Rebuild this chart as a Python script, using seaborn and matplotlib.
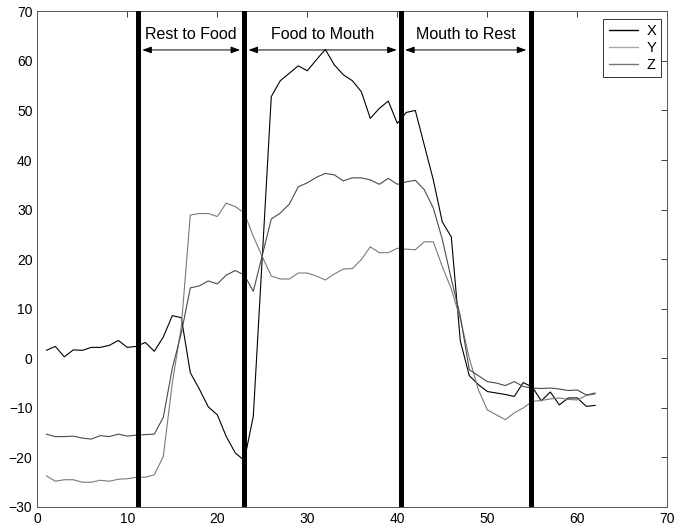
import numpy as np
import pandas as pd
import matplotlib
matplotlib.use("Agg")
import matplotlib.pyplot as plt
import seaborn as sns

# ---------------- data ----------------
samples = list(range(1, 63))

x_vals = [1.6, 2.4, 0.3, 1.7, 1.6, 2.2, 2.2, 2.6, 3.6, 2.2,
          2.4, 3.2, 1.4, 4.3, 8.6, 8.2, -2.9, -6.2, -9.8, -11.4,
          -15.8, -19.1, -20.6, -11.7, 20.5, 52.8, 56.0, 57.5, 59.0, 58.0,
          60.2, 62.3, 59.2, 57.2, 56.0, 53.8, 48.4, 50.4, 51.9, 47.4,
          49.6, 50.0, 43.0, 36.0, 27.5, 24.5, 3.5, -3.5, -5.3, -6.7,
          -7.0, -7.3, -7.7, -4.9, -5.8, -8.6, -6.8, -9.4, -8.0, -8.0,
          -9.7, -9.5]

y_vals = [-23.7, -24.8, -24.5, -24.5, -25.0, -25.0, -24.6, -24.8, -24.4, -24.3,
          -24.0, -24.0, -23.5, -19.8, -5.0, 6.4, 28.9, 29.2, 29.2, 28.6,
          31.3, 30.6, 29.3, 24.6, 20.5, 16.6, 16.0, 16.0, 17.2, 17.2,
          16.6, 15.8, 17.0, 18.0, 18.1, 19.9, 22.5, 21.3, 21.3, 22.2,
          22.0, 21.9, 23.5, 23.5, 18.5, 14.0, 8.0, 0.0, -6.3, -10.4,
          -11.4, -12.4, -11.0, -10.0, -8.7, -8.5, -8.2, -8.0, -8.3, -8.4,
          -7.5, -7.2]

z_vals = [-15.3, -15.8, -15.8, -15.7, -16.1, -16.3, -15.6, -15.8, -15.3, -15.7,
          -15.5, -15.4, -15.3, -11.9, -2.0, 5.1, 14.2, 14.6, 15.6, 15.0,
          16.8, 17.7, 16.8, 13.5, 20.8, 28.1, 29.3, 31.1, 34.6, 35.4,
          36.5, 37.3, 37.0, 35.8, 36.4, 36.4, 36.0, 35.1, 36.3, 35.1,
          35.6, 35.9, 34.0, 30.3, 24.0, 16.0, 8.5, -2.3, -3.5, -4.7,
          -5.0, -5.5, -4.7, -5.7, -6.0, -6.1, -6.0, -6.2, -6.5, -6.4,
          -7.4, -7.0]

series_names = ["X", "Y", "Z"]
series_colors = ["#000000", "#7a7a7a", "#4a4a4a"]

phase_bounds = [11.2, 23.0, 40.4, 54.8]
phase_labels = ["Rest to Food", "Food to Mouth", "Mouth to Rest"]

x_ticks = [0, 10, 20, 30, 40, 50, 60, 70]
y_ticks = [-30, -20, -10, 0, 10, 20, 30, 40, 50, 60, 70]

# ---------------- frame ----------------
df = pd.DataFrame({
    "sample": samples * 3,
    "value": x_vals + y_vals + z_vals,
    "axis": sum([[n] * len(samples) for n in series_names], []),
})

sns.set_style("white")
plt.rcParams["font.family"] = ["Liberation Sans", "DejaVu Sans"]
plt.rcParams["text.color"] = "black"

fig = plt.figure(figsize=(6.94, 5.29), dpi=100)
ax = fig.add_axes([37.3 / 694, 1 - 507 / 529, 630 / 694, (507 - 11.3) / 529])

sns.lineplot(data=df, x="sample", y="value", hue="axis",
             palette=dict(zip(series_names, series_colors)),
             linewidth=0.8, ax=ax, legend=True)

for b in phase_bounds:
    ax.axvline(b, color="black", linewidth=3.6, zorder=5)

arrow_y = 62.2
text_y = 64.35
for i, lab in enumerate(phase_labels):
    a, b = phase_bounds[i], phase_bounds[i + 1]
    ax.annotate("", xy=(b, arrow_y), xytext=(a, arrow_y),
                arrowprops=dict(arrowstyle="<|-|>,head_length=0.55,head_width=0.2",
                                color="black", lw=0.7, shrinkA=3, shrinkB=3))
    ax.text((a + b) / 2, text_y, lab, ha="center", va="baseline",
            fontsize=11.5, color="black")

ax.set_xlim(0, 70)
ax.set_ylim(-30, 70)
ax.set_xticks(x_ticks)
ax.set_yticks(y_ticks)
ax.set_xlabel("")
ax.set_ylabel("")
ax.tick_params(direction="in", length=4, width=0.6, top=True, right=True,
               labelsize=10, colors="#222222", labelcolor="black")
for s in ax.spines.values():
    s.set_linewidth(0.7)
    s.set_color("#555555")

leg = ax.legend(loc="upper right", bbox_to_anchor=(1 - 6 / 630, 1 - 8 / 495.7),
                borderaxespad=0, fontsize=10.5, frameon=True, fancybox=False,
                handlelength=2.0, handletextpad=0.6, labelspacing=0.2,
                borderpad=0.35)
leg.get_frame().set_edgecolor("black")
leg.get_frame().set_linewidth(0.7)
for line, col in zip(leg.get_lines(), ["#000000", "#aaaaaa", "#777777"]):
    line.set_linewidth(1.0)
    line.set_color(col)
for t in leg.get_texts():
    t.set_color("black")

fig.savefig("out.png", dpi=100)
